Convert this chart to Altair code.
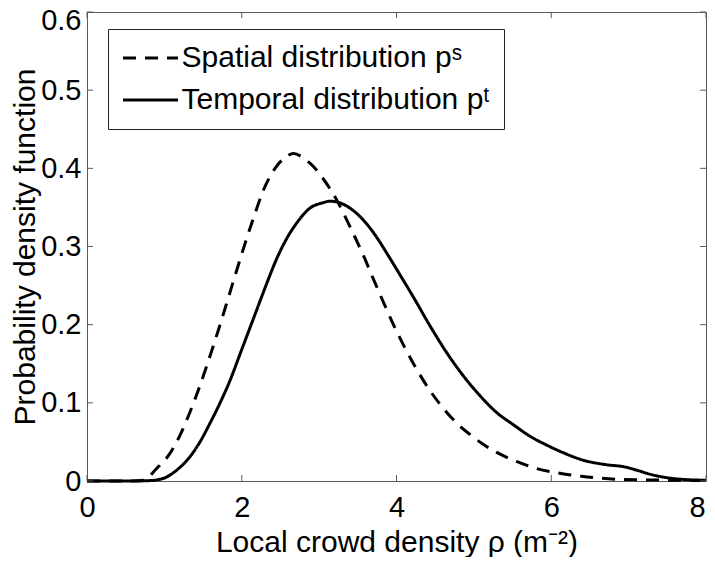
import altair as alt
import pandas as pd

# Spatial distribution p^s (dashed)
spatial_x = [0, 0.5, 0.73, 0.90, 1.07, 1.20, 1.33, 1.46, 1.55, 1.63, 1.72, 1.81, 1.93, 2.04,
             2.15, 2.28, 2.43, 2.55, 2.67, 2.80, 2.92, 3.05, 3.23, 3.40, 3.57, 3.72, 3.83,
             3.98, 4.11, 4.26, 4.41, 4.58, 4.78, 4.97, 5.12, 5.29, 5.55, 5.81, 6.11, 6.39,
             6.91, 7.55, 8.0]
spatial_y = [0, 0, 0.001, 0.016, 0.035, 0.058, 0.088, 0.122, 0.148, 0.172, 0.200, 0.229,
             0.268, 0.303, 0.336, 0.372, 0.400, 0.413, 0.419, 0.413, 0.403, 0.387, 0.359,
             0.325, 0.289, 0.254, 0.229, 0.196, 0.170, 0.143, 0.119, 0.096, 0.074, 0.058,
             0.047, 0.037, 0.025, 0.016, 0.010, 0.006, 0.002, 0.001, 0.0005]

# Temporal distribution p^t (solid)
temporal_x = [0, 0.6, 0.81, 0.99, 1.16, 1.33, 1.46, 1.59, 1.72, 1.85, 1.98, 2.11, 2.19, 2.32,
              2.45, 2.58, 2.71, 2.88, 3.05, 3.14, 3.23, 3.40, 3.57, 3.70, 3.89, 4.05, 4.22,
              4.43, 4.65, 4.86, 5.08, 5.29, 5.51, 5.73, 5.94, 6.16, 6.40, 6.70, 6.95, 7.10,
              7.30, 7.55, 7.80, 8.0]
temporal_y = [0, 0, 0.0005, 0.0035, 0.014, 0.031, 0.050, 0.074, 0.100, 0.129, 0.163, 0.197,
              0.218, 0.252, 0.284, 0.310, 0.330, 0.349, 0.356, 0.358, 0.357, 0.349, 0.334,
              0.318, 0.289, 0.263, 0.235, 0.199, 0.164, 0.135, 0.109, 0.088, 0.072, 0.057,
              0.046, 0.036, 0.027, 0.021, 0.018, 0.014, 0.008, 0.0035, 0.0015, 0.001]

series_names = ["Spatial distribution p\u02e2", "Temporal distribution p\u1d57"]
x_ticks = [0, 2, 4, 6, 8]
y_ticks = [0, 0.1, 0.2, 0.3, 0.4, 0.5, 0.6]

W, H = 619, 469
FONT = "Liberation Sans"
AX = "#5a5a5a"

df = pd.concat([
    pd.DataFrame({"x": spatial_x, "y": spatial_y, "series": series_names[0]}),
    pd.DataFrame({"x": temporal_x, "y": temporal_y, "series": series_names[1]}),
])

xscale = alt.Scale(domain=[0, 8], nice=False, zero=False)
yscale = alt.Scale(domain=[0, 0.6], nice=False, zero=False)

x_axis = alt.Axis(values=x_ticks, title="Local crowd density \u03c1 (m\u207b\u00b2)",
                  labelPadding=12, labelFlush=False,
                  labelOffset={"condition": {"test": "datum.value > 7.5", "value": -9},
                               "value": 0},
                  titleBaseline="alphabetic", titleY=70)
y_axis = alt.Axis(values=y_ticks, format=".1~f", title="Probability density function",
                  labelPadding=6, labelFlush=False,
                  titleBaseline="alphabetic", titleX=-53,
                  labelOffset={"condition": {"test": "datum.value > 0.55", "value": 8},
                               "value": 0})

lines = alt.Chart(df).mark_line(color="black", strokeWidth=3, interpolate="monotone").encode(
    x=alt.X("x:Q", scale=xscale, axis=x_axis),
    y=alt.Y("y:Q", scale=yscale, axis=y_axis),
    strokeDash=alt.StrokeDash(
        "series:N",
        scale=alt.Scale(domain=series_names, range=[[13, 9], [1, 0]]),
        legend=alt.Legend(title=None, orient="none", legendX=21, legendY=17,
                          symbolType="M-5,0H5", symbolSize=121, symbolStrokeWidth=3,
                          symbolStrokeColor="black", symbolOffset=13.5,
                          labelFont=FONT, labelFontSize=30,
                          labelColor="black", labelOffset=16, labelLimit=0,
                          rowPadding=12, padding=14, strokeColor="#222222",
                          fillColor="white"),
    ),
)

xt = pd.DataFrame({"x": x_ticks})
yt = pd.DataFrame({"y": y_ticks})

tick_bottom = alt.Chart(xt).mark_rule(color=AX, strokeWidth=1).encode(
    x=alt.X("x:Q", scale=xscale, axis=x_axis), y=alt.value(H), y2=alt.value(H - 6))
tick_top = alt.Chart(xt).mark_rule(color=AX, strokeWidth=1).encode(
    x=alt.X("x:Q", scale=xscale, axis=x_axis), y=alt.value(0), y2=alt.value(6))
tick_left = alt.Chart(yt).mark_rule(color=AX, strokeWidth=1).encode(
    y=alt.Y("y:Q", scale=yscale, axis=y_axis), x=alt.value(0), x2=alt.value(6))
tick_right = alt.Chart(yt).mark_rule(color=AX, strokeWidth=1).encode(
    y=alt.Y("y:Q", scale=yscale, axis=y_axis), x=alt.value(W - 6), x2=alt.value(W))

chart = alt.layer(lines, tick_bottom, tick_top, tick_left, tick_right).properties(
    width=W, height=H,
    autosize=alt.AutoSizeParams(type="none"),
    padding={"left": 79, "top": 4, "right": 1, "bottom": 76},
).configure_view(
    stroke=AX, strokeWidth=1
).configure_axis(
    domain=False, ticks=False, grid=False,
    labelFont=FONT, labelFontSize=29, labelColor="black",
    titleFont=FONT, titleFontSize=30, titleColor="black", titleFontWeight="normal",
)

chart.save("out.html", embed_options={"renderer": "svg", "actions": False})
